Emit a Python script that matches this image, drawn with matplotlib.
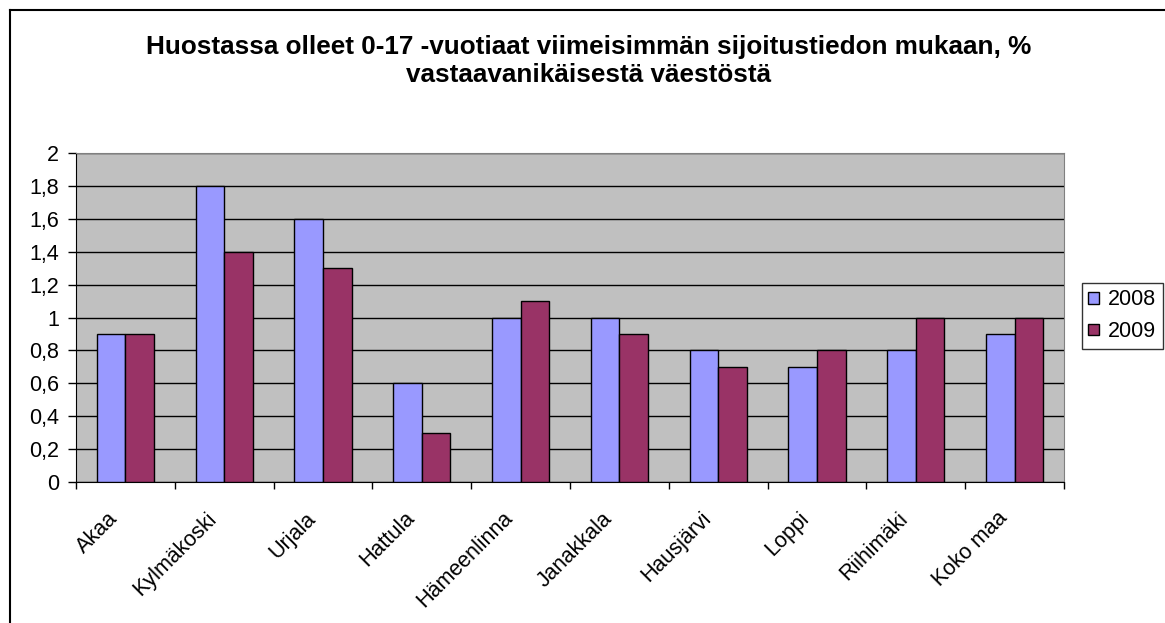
import numpy as np
import matplotlib
matplotlib.use('Agg')
from matplotlib import pyplot as plt
from matplotlib.lines import Line2D
import matplotlib.transforms as mtransforms

plt.rcParams['font.family'] = ['Liberation Sans', 'DejaVu Sans']

categories = ['Akaa', 'Kylmäkoski', 'Urjala', 'Hattula', 'Hämeenlinna',
              'Janakkala', 'Hausjärvi', 'Loppi', 'Riihimäki', 'Koko maa']
values_2008 = [0.9, 1.8, 1.6, 0.6, 1.0, 1.0, 0.8, 0.7, 0.8, 0.9]
values_2009 = [0.9, 1.4, 1.3, 0.3, 1.1, 0.9, 0.7, 0.8, 1.0, 1.0]
series_labels = ['2008', '2009']
y_ticks = [0, 0.2, 0.4, 0.6, 0.8, 1, 1.2, 1.4, 1.6, 1.8, 2]

W, H = 1165, 623
fs = 15.5

fig = plt.figure(figsize=(W / 100, H / 100), dpi=100)
ax = fig.add_axes([76 / W, 1 - 482 / H, 988 / W, 329 / H])
ax.set_facecolor('#C0C0C0')

x = np.arange(len(categories))
w = 0.29
ax.bar(x - w / 2, values_2008, w, color='#9999FF', edgecolor='black', linewidth=1.0,
       label=series_labels[0], zorder=3)
ax.bar(x + w / 2, values_2009, w, color='#993366', edgecolor='black', linewidth=1.0,
       label=series_labels[1], zorder=3)

ax.set_xlim(-0.5, len(categories) - 0.5)
ax.set_ylim(0, 2)
ax.set_yticks(y_ticks)
ax.set_yticklabels([('%g' % t).replace('.', ',') for t in y_ticks], fontsize=fs)
ax.yaxis.grid(True, color='black', linewidth=1.0, zorder=1)
ax.set_axisbelow(True)
ax.tick_params(axis='y', direction='out', length=6, width=1, pad=6)

# category ticks sit between the groups
ax.set_xticks(np.arange(len(categories) + 1) - 0.5)
ax.set_xticklabels([])
ax.tick_params(axis='x', which='major', direction='out', length=5, width=1)

# rotated category labels, anchored a bit left of/below each group centre
trans = mtransforms.blended_transform_factory(ax.transData, ax.transAxes)
trans = mtransforms.offset_copy(trans, fig=fig, x=-18, y=-26, units='dots')
for xi, name in zip(x, categories):
    ax.text(xi, 0, name, transform=trans, rotation=45, ha='right', va='top',
            rotation_mode='anchor', fontsize=fs)

for side in ['top', 'right']:
    ax.spines[side].set_color('#808080')
for side in ['left', 'bottom']:
    ax.spines[side].set_color('black')

fig.text(589 / W, 1 - 47 / H, 'Huostassa olleet 0-17 -vuotiaat viimeisimmän sijoitustiedon mukaan, %',
         ha='center', va='center', fontsize=18.8, fontweight='bold')
fig.text(589 / W, 1 - 75 / H, 'vastaavanikäisestä väestöstä',
         ha='center', va='center', fontsize=18.8, fontweight='bold')

leg = fig.legend(loc='upper left', bbox_to_anchor=(1082 / W, 1 - 283 / H),
                 fontsize=fs, frameon=True, fancybox=False, edgecolor='black',
                 handlelength=0.47, handleheight=0.47, handletextpad=0.45,
                 borderpad=0.3, labelspacing=0.5, borderaxespad=0)
leg.get_frame().set_linewidth(1.0)

# outer chart border (cropped on right and bottom)
fig.add_artist(Line2D([10 / W, 10 / W], [0, 1 - 10 / H], color='black',
                      linewidth=1.5, transform=fig.transFigure))
fig.add_artist(Line2D([10 / W, 1], [1 - 10 / H, 1 - 10 / H], color='black',
                      linewidth=1.5, transform=fig.transFigure))

fig.savefig('out.png', dpi=100)
